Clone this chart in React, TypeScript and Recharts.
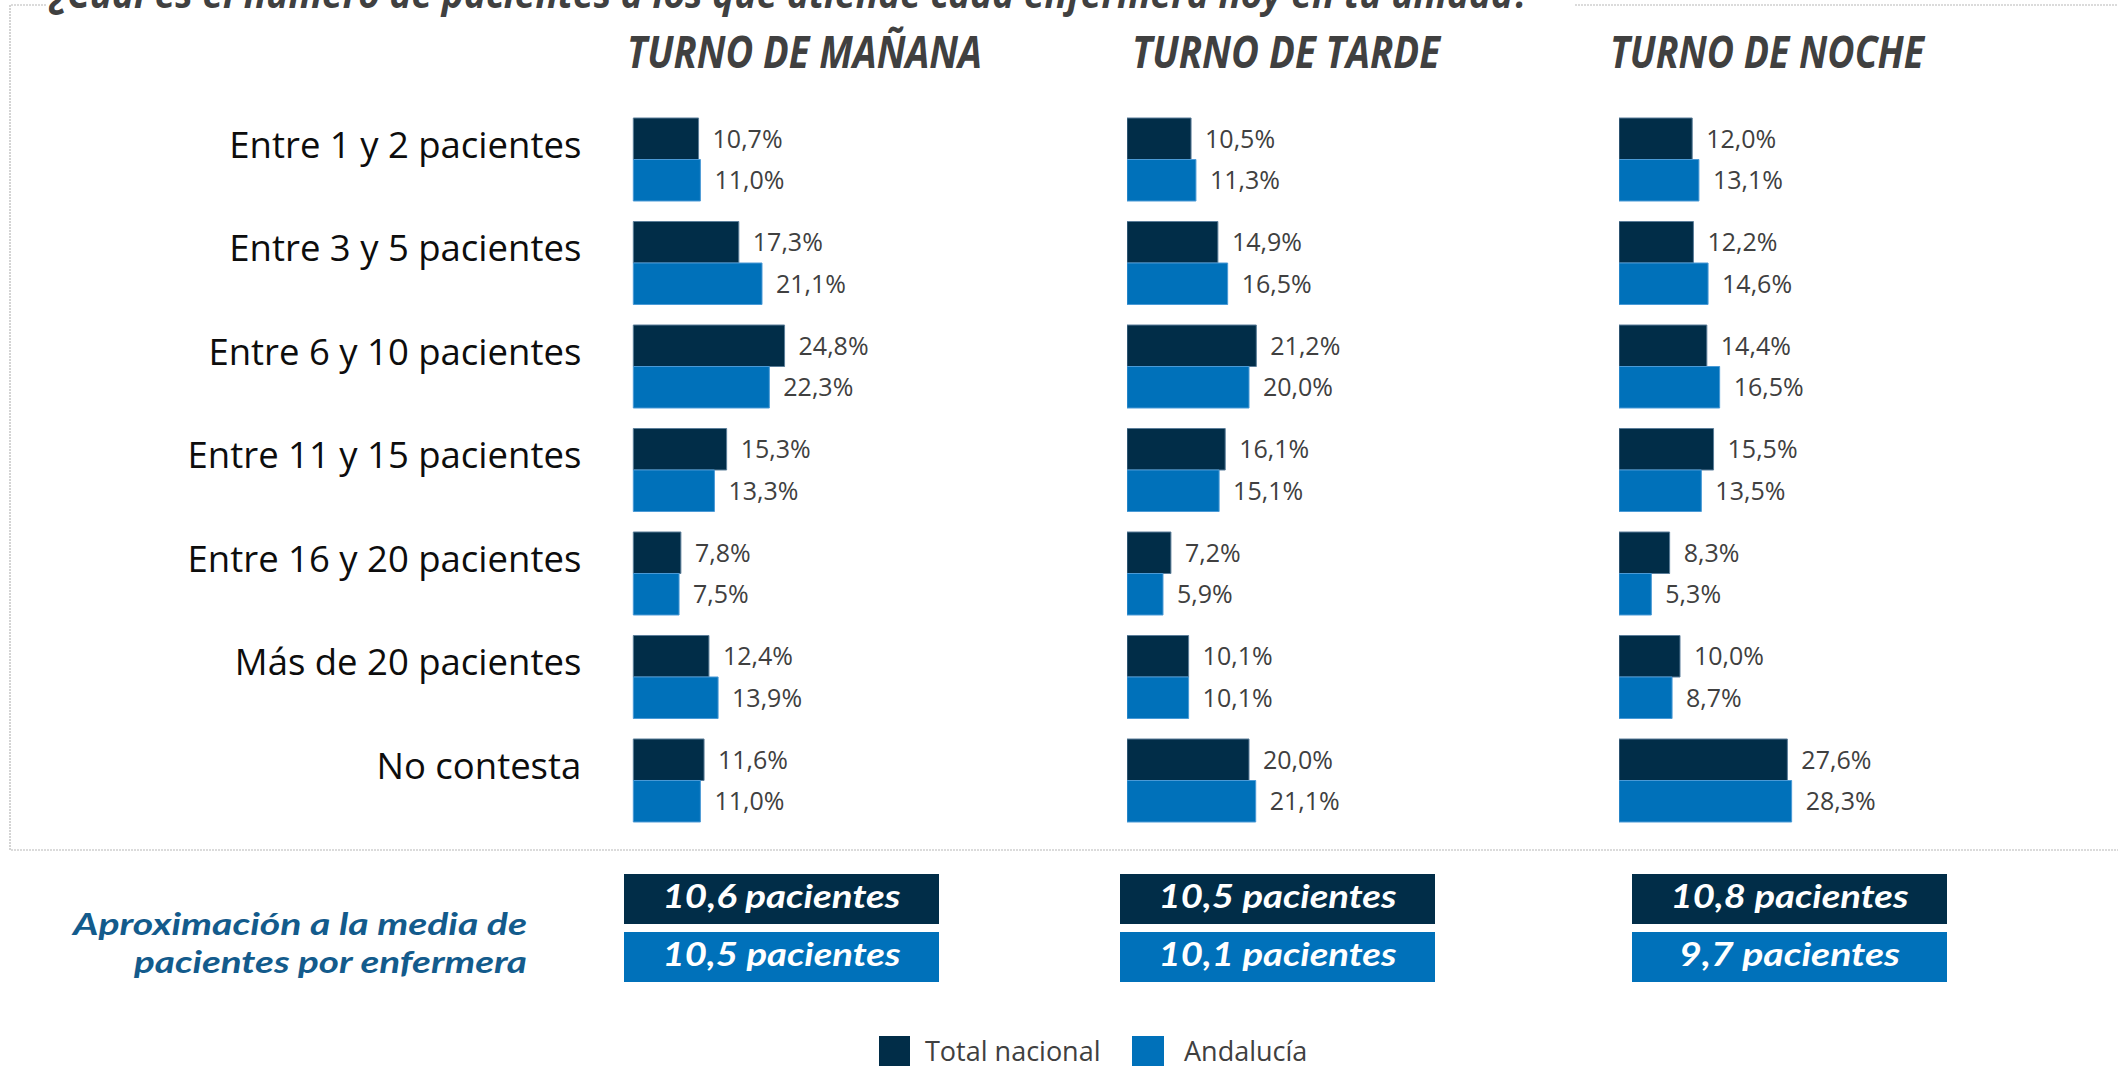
import React from 'react';
import { BarChart, Bar, XAxis, YAxis, LabelList } from 'recharts';

const categorias = [
  'Entre 1 y 2 pacientes',
  'Entre 3 y 5 pacientes',
  'Entre 6 y 10 pacientes',
  'Entre 11 y 15 pacientes',
  'Entre 16 y 20 pacientes',
  'Más de 20 pacientes',
  'No contesta',
];
const mananaNacional = [10.7, 17.3, 24.8, 15.3, 7.8, 12.4, 11.6];
const mananaAndalucia = [11.0, 21.1, 22.3, 13.3, 7.5, 13.9, 11.0];
const tardeNacional = [10.5, 14.9, 21.2, 16.1, 7.2, 10.1, 20.0];
const tardeAndalucia = [11.3, 16.5, 20.0, 15.1, 5.9, 10.1, 21.1];
const nocheNacional = [12.0, 12.2, 14.4, 15.5, 8.3, 10.0, 27.6];
const nocheAndalucia = [13.1, 14.6, 16.5, 13.5, 5.3, 8.7, 28.3];

const turnos = ['TURNO DE MAÑANA', 'TURNO DE TARDE', 'TURNO DE NOCHE'];
const mediaNacional = [10.6, 10.5, 10.8];
const mediaAndalucia = [10.5, 10.1, 9.7];
const series = ['Total nacional', 'Andalucía'];

const TITLE = '¿Cuál es el número de pacientes a los que atiende cada enfermera hoy en tu unidad?';

const DARK = '#012d48';
const BLUE = '#0071ba';
const DOMAIN_MAX = 30;
const PX_PER_PCT = 6.1;
const PLOT_W = DOMAIN_MAX * PX_PER_PCT;
const CHART_H = 850;
const RIGHT_M = 160;

const fmtPct = (v: any) => Number(v).toFixed(1).replace('.', ',') + '%';
const fmtNum = (v: number) => v.toFixed(1).replace('.', ',');

const CatTick = (props: any) => {
  const { x, y, payload } = props;
  return (
    <text
      x={x}
      y={y - 15}
      dy="0.355em"
      textAnchor="end"
      fontFamily="'Open Sans', sans-serif"
      fontSize={36.5}
      fill="#0d0d0d"
    >
      {payload.value}
    </text>
  );
};

function Panel({ left, nac, and, showAxis }: { left: number; nac: number[]; and: number[]; showAxis: boolean }) {
  const data = categorias.map((c, i) => ({ cat: c, nac: nac[i], and: and[i] }));
  const yW = showAxis ? left : 0;
  const chartLeft = showAxis ? 0 : left;
  const width = yW + PLOT_W + RIGHT_M;
  return (
    <div style={{ position: 'absolute', left: chartLeft, top: 0 }}>
      <BarChart
        width={width}
        height={CHART_H}
        layout="vertical"
        data={data}
        margin={{ top: 108, bottom: 17.5, left: 0, right: RIGHT_M }}
        barGap={0}
        barSize={41.5}
      >
        <XAxis type="number" domain={[0, DOMAIN_MAX]} hide />
        <YAxis
          type="category"
          dataKey="cat"
          hide={!showAxis}
          width={showAxis ? yW : 0}
          axisLine={false}
          tickLine={false}
          tickSize={0}
          tickMargin={52}
          interval={0}
          tick={<CatTick />}
        />
        <Bar dataKey="nac" name={series[0]} fill={DARK} stroke="#5b7d99" strokeWidth={1} isAnimationActive={false}>
          <LabelList
            dataKey="nac"
            position="right"
            offset={14}
            formatter={fmtPct}
            fill="#404040"
            fontSize={25}
            fontFamily="'Open Sans', sans-serif"
          />
        </Bar>
        <Bar dataKey="and" name={series[1]} fill={BLUE} stroke="#4a9ad6" strokeWidth={1} isAnimationActive={false}>
          <LabelList
            dataKey="and"
            position="right"
            offset={14}
            formatter={fmtPct}
            fill="#404040"
            fontSize={25}
            fontFamily="'Open Sans', sans-serif"
          />
        </Bar>
      </BarChart>
    </div>
  );
}

const headerPos = [
  { x: 627, w: 355 },
  { x: 1132, w: 308 },
  { x: 1610, w: 314 },
];
const boxX = [624, 1120, 1632];
const BOX_W = 315;

export default function App() {
  const hand = "Lato, 'Open Sans', sans-serif";
  return (
    <div
      style={{
        position: 'absolute',
        left: 0,
        top: 0,
        width: 2118,
        height: 1066,
        overflow: 'hidden',
        background: '#ffffff',
      }}
    >
      <svg width={2118} height={1066} style={{ position: 'absolute', left: 0, top: 0 }}>
        {/* frame */}
        <path
          d="M46,5 H10 V850 H2130 M1575,5 H2130"
          fill="none"
          stroke="#b8b8b8"
          strokeWidth={1.2}
          strokeDasharray="2 1"
        />
        {/* title (cut off at the top) */}
        <text
          x={50}
          y={8}
          fontFamily="'Open Sans', sans-serif"
          fontWeight={700}
          fontStyle="italic"
          fontSize={40}
          fill="#404040"
          textLength={1480}
          lengthAdjust="spacingAndGlyphs"
        >
          {TITLE}
        </text>
        {turnos.map((t, i) => (
          <text
            key={t}
            x={headerPos[i].x}
            y={68}
            fontFamily="'Open Sans', sans-serif"
            fontWeight={700}
            fontStyle="italic"
            fontSize={45}
            fill="#404040"
            textLength={headerPos[i].w}
            lengthAdjust="spacingAndGlyphs"
          >
            {t}
          </text>
        ))}
        {/* average boxes */}
        <text
          x={527}
          y={935}
          textAnchor="end"
          fontFamily={hand}
          fontStyle="italic"
          fontWeight={700}
          fontSize={30}
          fill="#135b8c"
          textLength={454}
          lengthAdjust="spacingAndGlyphs"
        >
          Aproximación a la media de
        </text>
        <text
          x={527}
          y={973}
          textAnchor="end"
          fontFamily={hand}
          fontStyle="italic"
          fontWeight={700}
          fontSize={30}
          fill="#135b8c"
          textLength={393}
          lengthAdjust="spacingAndGlyphs"
        >
          pacientes por enfermera
        </text>
        {boxX.map((bx, i) => {
          const t1 = fmtNum(mediaNacional[i]) + ' pacientes';
          const t2 = fmtNum(mediaAndalucia[i]) + ' pacientes';
          return (
            <g key={'box' + i}>
              <rect x={bx} y={874} width={BOX_W} height={50} fill={DARK} />
              <text
                x={bx + BOX_W / 2}
                y={908}
                textAnchor="middle"
                fontFamily={hand}
                fontStyle="italic"
                fontWeight={700}
                fontSize={33}
                fill="#ffffff"
                textLength={t1.length * 17}
                lengthAdjust="spacingAndGlyphs"
              >
                {t1}
              </text>
              <rect x={bx} y={932} width={BOX_W} height={50} fill={BLUE} />
              <text
                x={bx + BOX_W / 2}
                y={966}
                textAnchor="middle"
                fontFamily={hand}
                fontStyle="italic"
                fontWeight={700}
                fontSize={33}
                fill="#ffffff"
                textLength={t2.length * 17}
                lengthAdjust="spacingAndGlyphs"
              >
                {t2}
              </text>
            </g>
          );
        })}
        {/* legend */}
        <rect x={879} y={1036} width={31} height={31} fill={DARK} />
        <text x={925} y={1061} fontFamily="'Open Sans', sans-serif" fontSize={27} fill="#404040">
          {series[0]}
        </text>
        <rect x={1132} y={1036} width={32} height={31} fill={BLUE} />
        <text x={1184} y={1061} fontFamily="'Open Sans', sans-serif" fontSize={27} fill="#404040">
          {series[1]}
        </text>
      </svg>
      <Panel left={633.3} nac={mananaNacional} and={mananaAndalucia} showAxis={true} />
      <Panel left={1127.3} nac={tardeNacional} and={tardeAndalucia} showAxis={false} />
      <Panel left={1619.3} nac={nocheNacional} and={nocheAndalucia} showAxis={false} />
    </div>
  );
}
